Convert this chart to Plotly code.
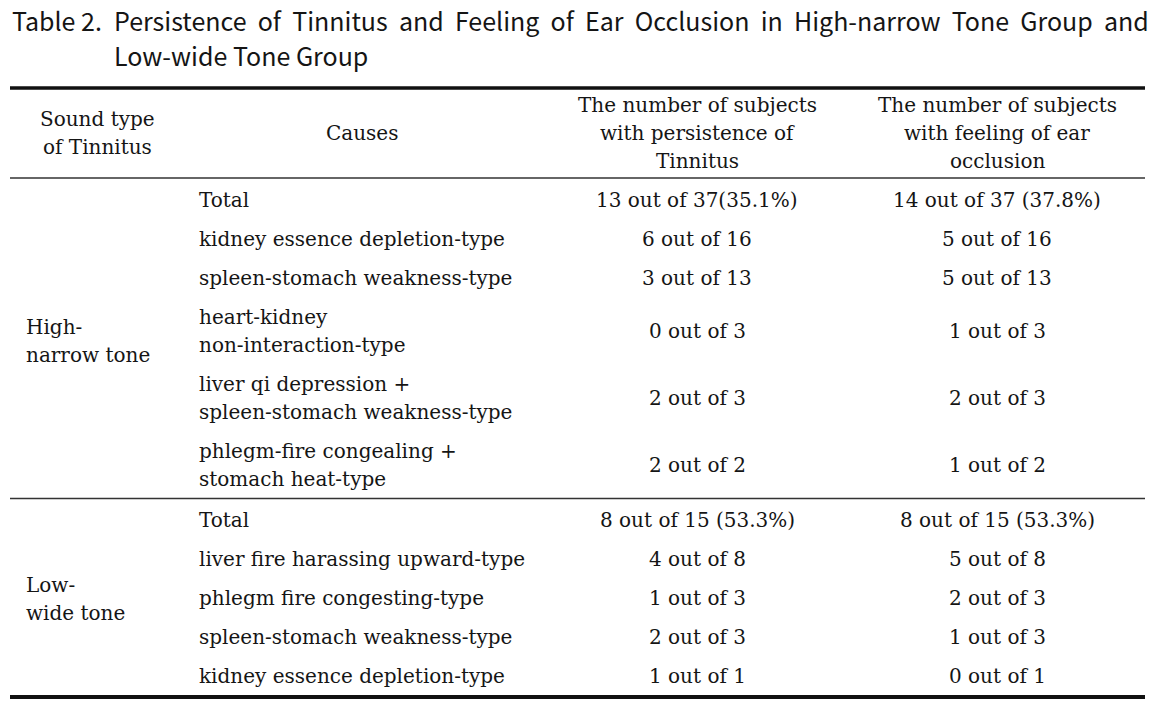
import plotly.graph_objects as go

# ---- data ----
title_line1 = "Persistence of Tinnitus and Feeling of Ear Occlusion in High-narrow Tone Group and"
title_line2 = "Low-wide Tone Group"
headers = ["Sound type<br>of Tinnitus", "Causes",
           "The number of subjects<br>with persistence of<br>Tinnitus",
           "The number of subjects<br>with feeling of ear<br>occlusion"]

groups = ["High-<br>narrow tone", "Low-<br>wide tone"]

high_causes = ["Total", "kidney essence depletion-type", "spleen-stomach weakness-type",
               "heart-kidney<br>non-interaction-type",
               "liver qi depression +<br>spleen-stomach weakness-type",
               "phlegm-fire congealing +<br>stomach heat-type"]
high_persist = ["13 out of 37(35.1%)", "6 out of 16", "3 out of 13", "0 out of 3", "2 out of 3", "2 out of 2"]
high_occl = ["14 out of 37 (37.8%)", "5 out of 16", "5 out of 13", "1 out of 3", "2 out of 3", "1 out of 2"]

low_causes = ["Total", "liver fire harassing upward-type", "phlegm fire congesting-type",
              "spleen-stomach weakness-type", "kidney essence depletion-type"]
low_persist = ["8 out of 15 (53.3%)", "4 out of 8", "1 out of 3", "2 out of 3", "1 out of 1"]
low_occl = ["8 out of 15 (53.3%)", "5 out of 8", "2 out of 3", "1 out of 3", "0 out of 1"]

# ---- layout constants ----
W, H = 1165, 701
X_LEFT, X_RIGHT = 10, 1145
COL_GROUP_X = 24
COL_GROUP_CX = 97
COL_CAUSE_X = 197
COL_CAUSE_CX = 362
COL3_CX = 697
COL4_CX = 997
SERIF = "DejaVu Serif"
SANS = "Noto Sans CJK KR"
FS = 20
LINE_H = 28

fig = go.Figure()
ann = []
shapes = []

def text(x, y, t, xanchor="center", size=FS, family=SERIF):
    lines = t.split("<br>")
    n = len(lines)
    for i, ln in enumerate(lines):
        ly = y + (i - (n - 1) / 2) * LINE_H
        ann.append(dict(x=x, y=ly, xref="x", yref="y", text=ln, showarrow=False,
                        xanchor=xanchor, yanchor="middle",
                        font=dict(family=family, size=size, color="#151515")))

def hline(y, w, color="#111"):
    shapes.append(dict(type="line", xref="x", yref="y", x0=X_LEFT, x1=X_RIGHT, y0=y, y1=y,
                       line=dict(color=color, width=w)))

# title
TS = 25
text(10, 20, "Table 2.", xanchor="left", family=SANS, size=TS)
text(112, 20, title_line1.replace(" ", "&nbsp;&nbsp;"), xanchor="left", family=SANS, size=TS)
text(112, 55, title_line2, xanchor="left", family=SANS, size=TS)

# rules
top_rule, head_rule = 88, 178
hline(top_rule, 3.5)
hline(head_rule, 1.5, "#333")

# header
head_cy = (top_rule + head_rule) / 2
text(COL_GROUP_CX, head_cy, headers[0])
text(COL_CAUSE_CX, head_cy, headers[1])
text(COL3_CX, head_cy, headers[2])
text(COL4_CX, head_cy, headers[3])

ROW1, ROW2 = 39, 67

def draw_group(y_start, label, causes, persist, occl):
    y = y_start
    for c, p, o in zip(causes, persist, occl):
        h = ROW2 if "<br>" in c else ROW1
        cy = y + h / 2
        text(COL_CAUSE_X, cy, c, xanchor="left")
        text(COL3_CX, cy, p)
        text(COL4_CX, cy, o)
        y += h
    text(COL_GROUP_X, (y_start + y) / 2 + 1, label, xanchor="left")
    return y

y_end1 = draw_group(head_rule + 2.5, groups[0], high_causes, high_persist, high_occl)
hline(y_end1, 1.5, "#333")
y_end2 = draw_group(y_end1 + 2, groups[1], low_causes, low_persist, low_occl)
hline(y_end2 + 1.5, 4)

fig.update_layout(
    width=W, height=H, margin=dict(l=0, r=0, t=0, b=0),
    paper_bgcolor="white", plot_bgcolor="white",
    xaxis=dict(range=[0, W], visible=False, fixedrange=True),
    yaxis=dict(range=[H, 0], visible=False, fixedrange=True),
    annotations=ann, shapes=shapes, showlegend=False,
)
fig.write_html("out.html", config={"displayModeBar": False},
               post_script="document.body.style.margin='0';document.body.style.overflow='hidden';")
